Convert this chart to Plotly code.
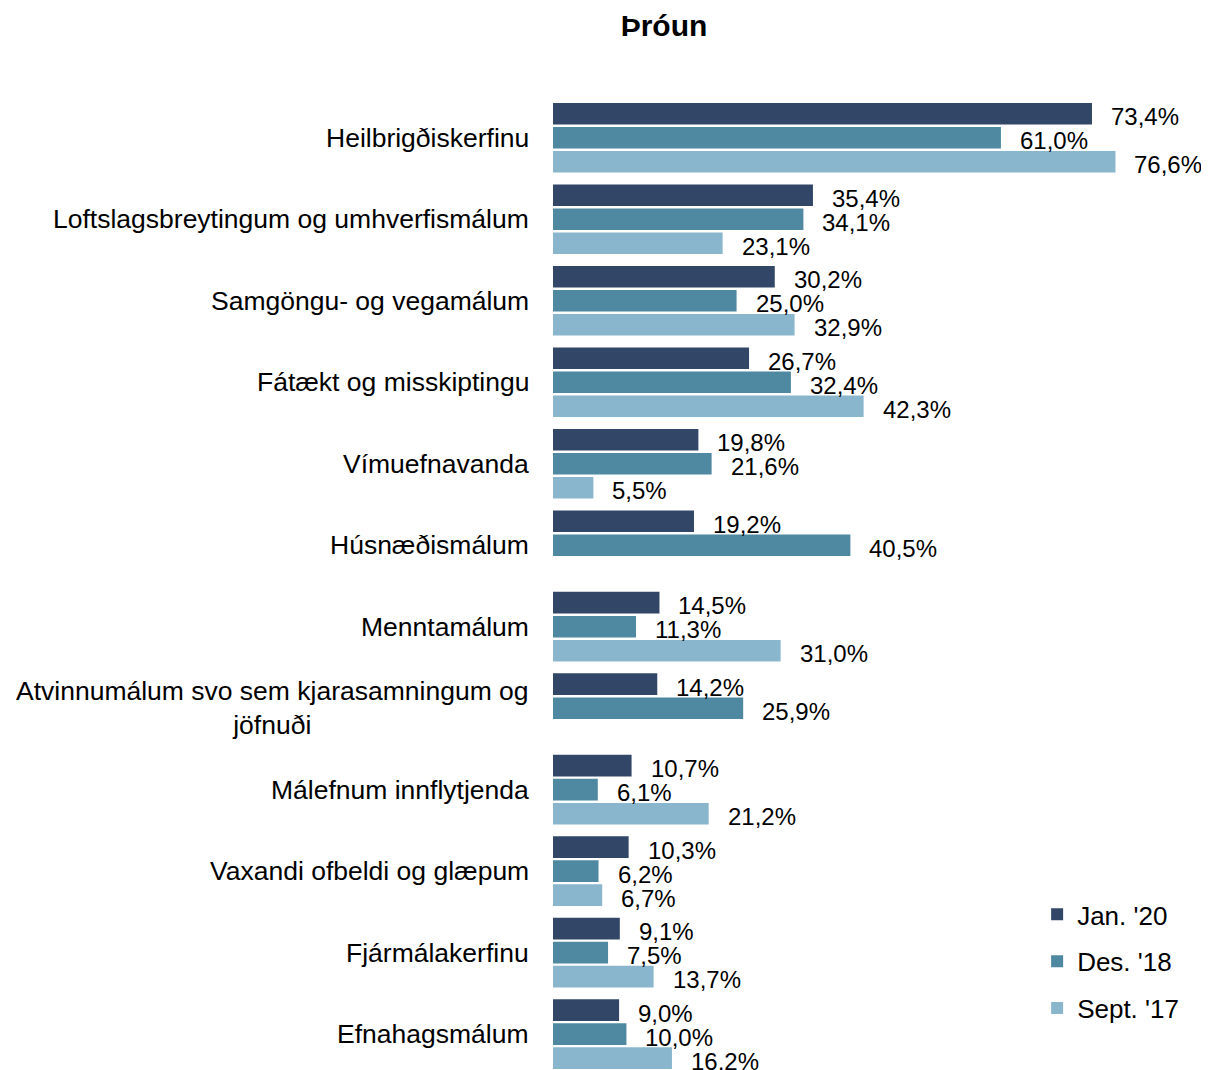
import plotly.graph_objects as go

categories = [
    "Heilbrigðiskerfinu",
    "Loftslagsbreytingum og umhverfismálum",
    "Samgöngu- og vegamálum",
    "Fátækt og misskiptingu",
    "Vímuefnavanda",
    "Húsnæðismálum",
    "Menntamálum",
    "Atvinnumálum svo sem kjarasamningum og<br>jöfnuði",
    "Málefnum innflytjenda",
    "Vaxandi ofbeldi og glæpum",
    "Fjármálakerfinu",
    "Efnahagsmálum",
]
jan20 = [73.4, 35.4, 30.2, 26.7, 19.8, 19.2, 14.5, 14.2, 10.7, 10.3, 9.1, 9.0]
des18 = [61.0, 34.1, 25.0, 32.4, 21.6, 40.5, 11.3, 25.9, 6.1, 6.2, 7.5, 10.0]
sept17 = [76.6, 23.1, 32.9, 42.3, 5.5, None, 31.0, None, 21.2, 6.7, 13.7, 16.2]

series = [
    ("Jan. '20", jan20, "#324667"),
    ("Des. '18", des18, "#4F88A1"),
    ("Sept. '17", sept17, "#89B6CC"),
]

FONT = "Arial, Liberation Sans, sans-serif"
SLOT_PX = 24  # pixel height of one bar slot within a group (layout styling)

def fmt(v):
    return f"{v:.1f}".replace(".", ",") + "%"

fig = go.Figure()
for i, (name, vals, color) in enumerate(series):
    fig.add_trace(go.Bar(
        name=name,
        y=categories,
        x=vals,
        orientation="h",
        marker=dict(color=color, line=dict(width=0)),
        legendgroup=f"g{i}",
        hoverinfo="skip",
    ))
    # value labels placed at the end of each bar, shifted to its slot in the group
    for c, v in zip(categories, vals):
        if v is None:
            continue
        fig.add_annotation(
            x=v, xref="x", y=c, yref="y",
            text=fmt(v), showarrow=False,
            xanchor="left", yanchor="middle",
            xshift=17, yshift=SLOT_PX * (1 - i) - 3,
            font=dict(family=FONT, size=24, color="#000000"),
        )

for c in categories:
    fig.add_annotation(
        x=0, xref="paper", y=c, yref="y",
        text=c, showarrow=False,
        xanchor="right", yanchor="middle", align="center",
        xshift=-22,
        font=dict(family=FONT, size=26.5, color="#000000"),
    )

W, H = 1201, 1062
fig.update_layout(
    width=W, height=H, autosize=False,
    margin=dict(l=545, r=0, t=89, b=0),
    paper_bgcolor="white", plot_bgcolor="white",
    barmode="group", bargap=0.116, bargroupgap=0.1,
    title=dict(
        text="<b>Þróun</b>",
        x=(664 - 8) / W, xref="container", xanchor="center",
        y=1 - (25 - 8) / H, yref="container", yanchor="middle",
        font=dict(family=FONT, size=30, color="#000000"),
    ),
    xaxis=dict(range=[0, 656 / 7.343], visible=False, fixedrange=True),
    yaxis=dict(
        range=[11.44, -0.5], type="category",
        showticklabels=False, showgrid=False, zeroline=False,
        showline=False, ticks="",
    ),
    legend=dict(
        x=0.738, y=0.184, xanchor="left", yanchor="top",
        font=dict(family=FONT, size=26, color="#000000"),
        traceorder="grouped", tracegroupgap=10,
        bgcolor="rgba(0,0,0,0)",
    ),
    showlegend=True,
)

fig.write_html("out.html")
